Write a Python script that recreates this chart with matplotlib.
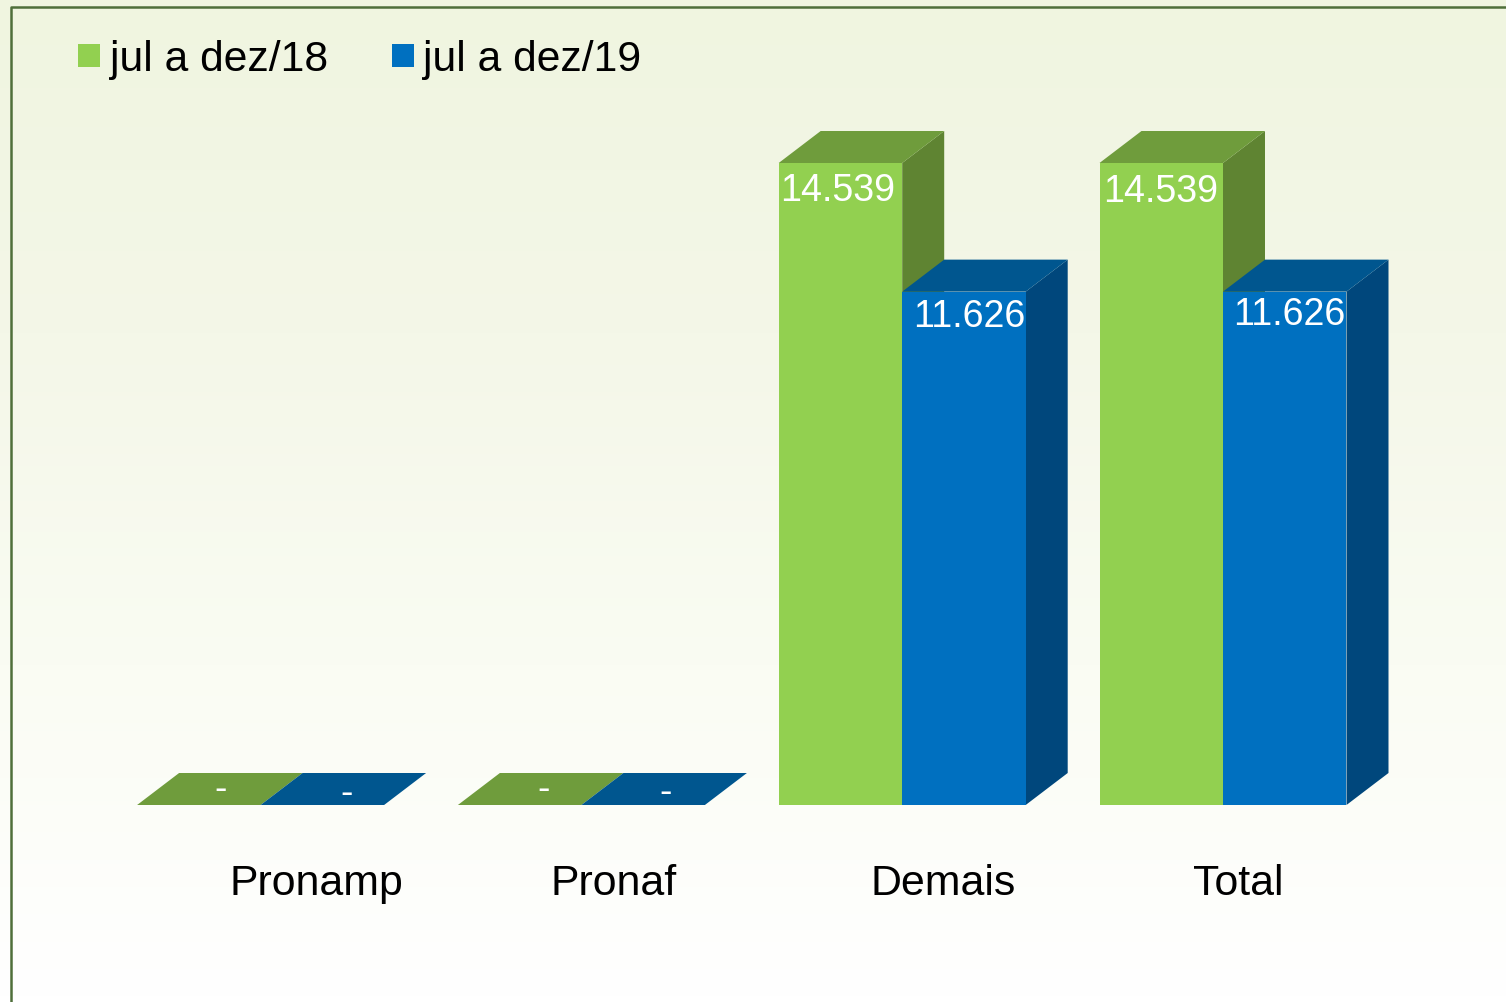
import matplotlib
matplotlib.use("Agg")
import numpy as np
import matplotlib.pyplot as plt
from matplotlib.colors import LinearSegmentedColormap
from matplotlib.patches import Polygon, Patch

categories = ["Pronamp", "Pronaf", "Demais", "Total"]
series_names = ["jul a dez/18", "jul a dez/19"]
values_18 = [0, 0, 14539, 14539]
values_19 = [0, 0, 11626, 11626]

W, H = 1506, 1002
plt.rcParams['font.family'] = ['Liberation Sans', 'DejaVu Sans']

# pixel geometry of the plot
PX_PER_CAT = 320.8
PX_PER_UNIT = 642.0 / 14539
X0_PX, Y0_PX = 260.6, 805.0
BAR_W = 123.5 / PX_PER_CAT
DX = 42.0 / PX_PER_CAT
DY = 32.0 / PX_PER_UNIT

FRONT = ["#92D050", "#0070C0"]
TOP = ["#6F9C3C", "#00568F"]
SIDE = ["#5F8432", "#00477C"]

fig = plt.figure(figsize=(W / 100, H / 100), dpi=100)

# background gradient
bg = fig.add_axes([0, 0, 1, 1], zorder=0)
cmap = LinearSegmentedColormap.from_list("bg", ["#F0F5E0", "#F4F7E8", "#FAFCF3", "#FFFFFF"])
bg.imshow(np.linspace(0, 1, 256).reshape(-1, 1), aspect="auto", cmap=cmap,
          extent=(0, W, H, 0), interpolation="bilinear")
bg.set_xlim(0, W)
bg.set_ylim(H, 0)
bg.axis("off")
bg.plot([11.5, 11.5, W], [H, 6.5, 6.5], color="#4F6F3A", lw=1.8, solid_capstyle="butt")

ax = fig.add_axes([0, 0, 1, 1], zorder=1)
ax.patch.set_alpha(0)
ax.set_xlim(-X0_PX / PX_PER_CAT, (W - X0_PX) / PX_PER_CAT)
ax.set_ylim((Y0_PX - H) / PX_PER_UNIT, Y0_PX / PX_PER_UNIT)
ax.axis("off")


def bar3d(x_left, value, s):
    ax.add_patch(Polygon([(x_left + BAR_W, 0), (x_left + BAR_W + DX, DY),
                          (x_left + BAR_W + DX, value + DY), (x_left + BAR_W, value)],
                         closed=True, fc=SIDE[s], ec="none", zorder=2 + s))
    ax.add_patch(Polygon([(x_left, value), (x_left + DX, value + DY),
                          (x_left + BAR_W + DX, value + DY), (x_left + BAR_W, value)],
                         closed=True, fc=TOP[s], ec="none", zorder=2 + s))
    ax.bar(x_left, value, width=BAR_W, align="edge", color=FRONT[s], lw=0, zorder=2 + s)


x = np.arange(len(categories))
for s, vals in enumerate([values_18, values_19]):
    for xi, v in zip(x, vals):
        bar3d(xi - BAR_W + s * BAR_W, v, s)


def fmt(v):
    return f"{v:,}".replace(",", ".") if v else "-"


# value label offsets from the bar's left edge / top, in pixels
label_dx = [[83, 86, 59, 61], [86, 84, 67, 66]]
label_dy = [[15, 15, -28, -29], [11, 12, -25, -23]]
for s, vals in enumerate([values_18, values_19]):
    for i, v in enumerate(vals):
        xl = x[i] - BAR_W + s * BAR_W
        ax.text(xl + label_dx[s][i] / PX_PER_CAT, v + label_dy[s][i] / PX_PER_UNIT, fmt(v),
                color="white", fontsize=27.1, ha="center", va="center", zorder=6)

# category labels
cat_px = [316, 614, 943, 1238]
for name, px in zip(categories, cat_px):
    ax.text((px - X0_PX) / PX_PER_CAT, (Y0_PX - 884) / PX_PER_UNIT, name,
            fontsize=30.9, color="black", ha="center", va="center", zorder=6)

handles = [Patch(fc=FRONT[0], ec="none", label=series_names[0]),
           Patch(fc=FRONT[1], ec="none", label=series_names[1])]
leg = ax.legend(handles=handles, ncol=2, frameon=False, fontsize=30.7,
                loc="upper left", bbox_to_anchor=(78 / W, 1 - 40 / H),
                borderpad=0, borderaxespad=0, handlelength=0.52, handleheight=0.46,
                handletextpad=0.22, columnspacing=1.5, labelcolor="black")

fig.savefig("out.png", dpi=100)
